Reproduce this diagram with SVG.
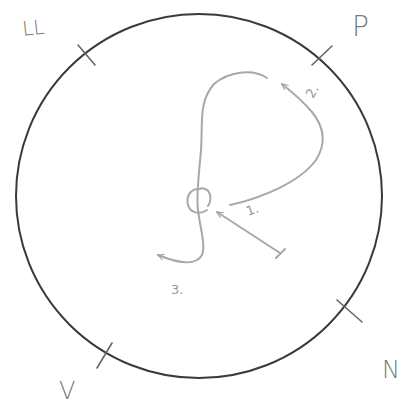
<svg xmlns="http://www.w3.org/2000/svg" width="405" height="405" viewBox="0 0 405 405">
<style>
.rim{fill:none;stroke:#3a3a3a;stroke-width:2}
.tick{stroke:#666;stroke-width:1.6;stroke-linecap:round}
.lbl{font-family:"DejaVu Sans","Liberation Sans",sans-serif;font-weight:200;fill:#7a7a7a}
.path{fill:none;stroke:#a8a8a8;stroke-width:2;stroke-linecap:round;stroke-linejoin:round}
.num{font-family:"DejaVu Sans","Liberation Sans",sans-serif;font-size:13px;fill:#999}
</style>
<defs>
<marker id="ah" viewBox="0 0 10 10" refX="9" refY="5" markerWidth="7" markerHeight="7" orient="auto" markerUnits="userSpaceOnUse">
<path d="M1,1 L9,5 L1,9" fill="none" stroke="#a0a0a0" stroke-width="1.6" stroke-linecap="round"/>
</marker>
</defs>
<rect width="405" height="405" fill="#fff"/>
<g id="rim">
<ellipse class="rim" cx="199" cy="196" rx="183" ry="182"/>
<line class="tick" x1="78" y1="45" x2="95" y2="65"/>
<line class="tick" x1="312" y1="65" x2="332" y2="46"/>
<line class="tick" x1="97" y1="368" x2="112" y2="343"/>
<line class="tick" x1="337" y1="300" x2="362" y2="322"/>
</g>
<g id="label-LL"><text class="lbl" x="22" y="34" font-size="20" transform="rotate(-6 40 26)">LL</text></g>
<g id="label-P"><text class="lbl" x="352" y="36" font-size="28">P</text></g>
<g id="label-V"><text class="lbl" x="59" y="399" font-size="24">V</text></g>
<g id="label-N"><text class="lbl" x="382" y="378" font-size="24">N</text></g>
<g id="connectors">
<path class="path" d="M267,78 C252,68 228,72 214,84 C198,102 203,125 201,150 C199,175 196,195 198,210 C200,228 206,245 202,255 C196,266 180,264 158,255" marker-end="url(#ah)"/>
<path class="path" d="M200,189 C190,188 186,197 188,205 C190,213 200,215 207,210 M208,206 C212,200 211,191 205,189 C203,188 201,188 200,189" stroke="#c0c0c0" stroke-width="1.5"/>
<path class="path" d="M230,205 C262,198 300,182 316,160 C326,144 325,128 312,112 C302,100 292,92 282,84" marker-end="url(#ah)"/>
<path class="path" d="M280,253 L217,212" marker-end="url(#ah)"/>
<line class="path" x1="276" y1="258" x2="285" y2="249" stroke-width="1.6"/>
</g>
<g id="step-labels">
<text class="num" transform="translate(313,99) rotate(-60)">2.</text>
<text class="num" transform="translate(248,216) rotate(-20)">1.</text>
<text class="num" x="171" y="294">3.</text>
</g>
</svg>
